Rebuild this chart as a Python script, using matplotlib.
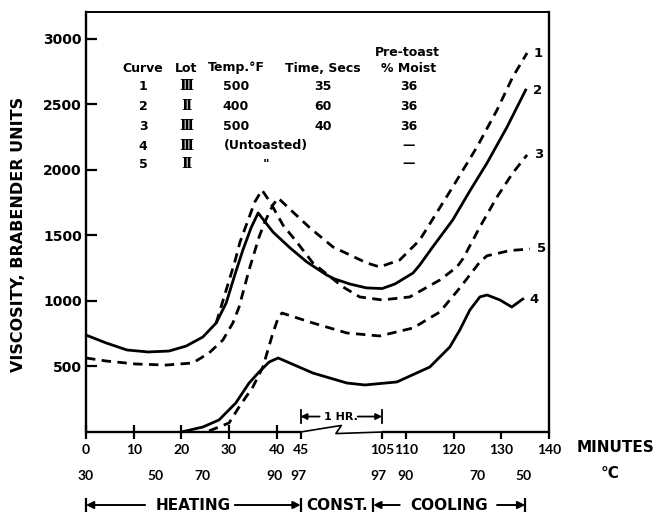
import numpy as np
import matplotlib
matplotlib.use("Agg")
import matplotlib.pyplot as plt
from matplotlib.transforms import blended_transform_factory

# ---------------- data (time in minutes, viscosity in Brabender units) -------------
c1_t = [0, 4.2, 10.5, 16.8, 22.4, 25.8, 28.7, 30.8, 32.1, 34.2, 36.3, 37.5, 39.2, 40.3,
        43.4, 52.0, 68.9, 93.8, 103.2, 108.7, 112.9, 119.8, 124.9, 129.1, 132.4, 135.4]
c1_v = [565, 542, 519, 511, 527, 603, 702, 832, 954, 1237, 1489, 1603, 1733, 1786,
        1679, 1557, 1412, 1290, 1260, 1313, 1466, 1870, 2176, 2458, 2710, 2893]

c2_t = [0, 4.2, 8.6, 13, 17.4, 21, 24.5, 27.3, 29.4, 31.2, 32.9, 34.6, 36.1, 39.2, 42.8,
        49.6, 64.3, 69.6, 81.1, 93.4, 105, 107.7, 111.5, 112.9, 115.6, 119.8, 123.4,
        127, 131.2, 135.1]
c2_v = [740, 680, 626, 611, 618, 656, 725, 832, 985, 1198, 1389, 1557, 1672, 1527, 1405,
        1298, 1198, 1170, 1130, 1100, 1095, 1130, 1214, 1275, 1412, 1618, 1840,
        2053, 2328, 2610]

c3_t = [27.3, 29.4, 31.2, 32.3, 34.0, 35.4, 36.9, 38.6, 41.3, 44.2, 54.1, 76.2, 88.5,
        105, 110.8, 117.1, 120.7, 122, 125.5, 129.1, 132.4, 135.4]
c3_v = [832, 1084, 1298, 1450, 1618, 1756, 1847, 1756, 1580, 1450, 1290, 1107, 1031,
        1008, 1031, 1160, 1260, 1325, 1565, 1794, 1977, 2115]

c4_t = [20, 24.5, 27.9, 31.4, 34.2, 36.3, 38.4, 40.3, 54.1, 79.0, 92.3, 108.1, 115,
        119.2, 121.3, 123.4, 125.5, 127, 129.7, 132.2, 134.5]
c4_v = [0, 38, 92, 221, 374, 458, 534, 565, 450, 374, 359, 382, 496,
        649, 779, 931, 1031, 1046, 1008, 954, 1015]

c5_t = [25.8, 30, 32.1, 35, 37.1, 39.2, 40.3, 41.1, 54.1, 79.0, 103.2, 111.5, 117.1,
        121.3, 125.5, 127, 131.8, 136]
c5_v = [8, 69, 191, 344, 496, 756, 870, 908, 832, 756, 733, 794, 916,
        1100, 1298, 1345, 1385, 1397]

curve_names = ["1", "2", "3", "4", "5"]

minute_major = [0, 10, 20, 30, 40]
minute_minor = [45, 105, 110, 120, 130, 140]
y_ticks = [500, 1000, 1500, 2000, 2500, 3000]
temp_labels = ["30", "50", "70", "90", "97", "97", "90", "70", "50"]
temp_pos = [0, 14.5, 24.5, 39.5, 44.5, 102, 110, 125, 134.7]

# legend table
tbl_head = ["Curve", "Lot", "Temp.\u00b0F", "Time, Secs", "% Moist"]
tbl_curve = ["1", "2", "3", "4", "5"]
tbl_lot = ["\u2162", "\u2161", "\u2162", "\u2162", "\u2161"]
tbl_temp = ["500", "400", "500", "(Untoasted)", '"']
tbl_time = ["35", "60", "40", "", ""]
tbl_moist = ["36", "36", "36", "\u2014", "\u2014"]

phase_names = ["HEATING", "CONST.", "COOLING"]
phase_bounds = [0, 45, 98, 135]
hour_span = [45, 105]

# ---------------- broken time axis (45..105 min compressed) -------------
W = 17.1


def fwd(t):
    t = np.asarray(t, float)
    return np.where(t <= 45, t, np.where(t >= 105, t - 105 + 45 + W, 45 + (t - 45) * W / 60))


def inv(u):
    u = np.asarray(u, float)
    return np.where(u <= 45, u, np.where(u >= 45 + W, u - 45 - W + 105, 45 + (u - 45) * 60 / W))


FONT = "DejaVu Sans"
NUMFONT = ["Lato", "DejaVu Sans"]
plt.rcParams["font.family"] = [FONT]
plt.rcParams["font.weight"] = "bold"

fig = plt.figure(figsize=(6.58, 5.13), dpi=100)
ax = fig.add_axes([86 / 658, 81 / 513, 463 / 658, 420 / 513])
ax.set_xscale("function", functions=(fwd, inv))
ax.set_xlim(0, 140)
ax.set_ylim(0, 3206)

LW = 2.0
DASH = (3.4, 2.3)
ax.plot(c1_t, c1_v, color="k", lw=LW, dashes=DASH)
ax.plot(c2_t, c2_v, color="k", lw=LW)
ax.plot(c3_t, c3_v, color="k", lw=LW, dashes=DASH)
ax.plot(c4_t, c4_v, color="k", lw=LW)
ax.plot(c5_t, c5_v, color="k", lw=LW, dashes=DASH)

for name, t, v in zip(curve_names, [c1_t, c2_t, c3_t, c4_t, c5_t], [c1_v, c2_v, c3_v, c4_v, c5_v]):
    ax.annotate(name, xy=(t[-1], v[-1]), xytext=(5, 0), textcoords="offset points",
                ha="left", va="center", fontsize=9.5, fontweight="bold")

# spines
for s in ["left", "right"]:
    ax.spines[s].set_linewidth(1.7)
ax.spines["top"].set_linewidth(1.4)
ax.spines["bottom"].set_visible(False)
ax.plot([0, 45], [0, 0], color="k", lw=1.7, clip_on=False, solid_capstyle="butt")
ax.plot([105, 140], [0, 0], color="k", lw=1.7, clip_on=False, solid_capstyle="butt")
ax.plot([45, 75, 71, 105], [0, 50, -12, 0], color="k", lw=1.2, clip_on=False)

# ticks
ax.set_yticks(y_ticks)
ax.set_yticklabels([str(v) for v in y_ticks])
ax.tick_params(axis="y", direction="in", length=8, width=1.6, labelsize=10, pad=3)
ax.set_xticks(minute_major)
ax.set_xticklabels([str(v) for v in minute_major])
ax.set_xticks(minute_minor, [str(v) for v in minute_minor], minor=True)
ax.tick_params(axis="x", which="major", direction="inout", length=10.5, width=1.6,
               labelsize=10, pad=3.5)
ax.tick_params(axis="x", which="minor", direction="out", length=5, width=1.6,
               labelsize=10, pad=3.5)
for lab in ax.get_yticklabels():
    lab.set_fontweight("bold")
for lab in ax.get_xticklabels(which="both"):
    lab.set_fontweight("bold")
    lab.set_family(NUMFONT)

# temperature row
tx = blended_transform_factory(ax.transData, fig.transFigure)
for lab, p in zip(temp_labels, temp_pos):
    ax.text(p, 1 - 476 / 513, lab, transform=tx, ha="center", va="center",
            fontsize=10, fontweight="bold", family=NUMFONT)
fig.text(616 / 658, 1 - 447 / 513, "MINUTES", ha="center", va="center", fontsize=11,
         fontweight="bold")
fig.text(610 / 658, 1 - 473 / 513, "\u00b0C", ha="center", va="center", fontsize=11,
         fontweight="bold")

fig.text(19 / 658, 1 - 234 / 513, "VISCOSITY, BRABENDER UNITS", rotation=90,
         ha="center", va="center", fontsize=11.5, fontweight="bold")

# 1 HR. marker
for h in hour_span:
    ax.plot([h, h], [69, 168], color="k", lw=1.3)
hx = float(inv((fwd(hour_span[0]) + fwd(hour_span[1])) / 2))
ax.text(hx, 118, "1 HR.", ha="center", va="center", fontsize=8, fontweight="bold")
ax.annotate("", xy=(hour_span[0], 118), xytext=(59, 118),
            arrowprops=dict(arrowstyle="-|>", lw=1.3, color="k", mutation_scale=9,
                            shrinkA=0, shrinkB=0))
ax.annotate("", xy=(hour_span[1], 118), xytext=(87, 118),
            arrowprops=dict(arrowstyle="-|>", lw=1.3, color="k", mutation_scale=9,
                            shrinkA=0, shrinkB=0))

# phase row
py = 1 - 505 / 513
for i, name in enumerate(phase_names):
    a, b = fwd(phase_bounds[i]), fwd(phase_bounds[i + 1])
    ax.text(float(inv((a + b) / 2)), py, name, transform=tx, ha="center", va="center",
            fontsize=11, fontweight="bold")
arrows = [(12.4, 0), (31.2, 45), (108.7, 98.5), (129.1, 135)]
for tail, head in arrows:
    ax.annotate("", xy=(head, py), xycoords=tx, xytext=(tail, py), textcoords=tx,
                arrowprops=dict(arrowstyle="-|>", lw=1.4, color="k", mutation_scale=11,
                                shrinkA=0, shrinkB=0), annotation_clip=False)
for b in phase_bounds:
    ax.plot([b], [py], marker="|", markersize=10, mew=1.6, color="k", transform=tx,
            clip_on=False)

# legend table
col_x = [143, 186.5, 236, 323, 409]
head_y = 68
row_y = [86, 106, 126, 146, 164]
span_x = 266


def ft(x, y, s, **kw):
    kw.setdefault("fontsize", 9)
    fig.text(x / 658, 1 - y / 513, s, ha="center", va="center",
             fontweight="bold", **kw)


for x, h in zip(col_x, tbl_head):
    ft(x, head_y, h)
ft(407, 53, "Pre-toast")
for i, y in enumerate(row_y):
    ft(col_x[0], y, tbl_curve[i])
    ft(col_x[1], y, tbl_lot[i], family=["DejaVu Serif", "DejaVu Sans"], fontsize=10)
    if tbl_time[i] == "":
        ft(span_x, y, tbl_temp[i])
    else:
        ft(col_x[2], y, tbl_temp[i])
        ft(col_x[3], y, tbl_time[i])
    ft(col_x[4], y, tbl_moist[i])

fig.savefig("out.png", dpi=100)
